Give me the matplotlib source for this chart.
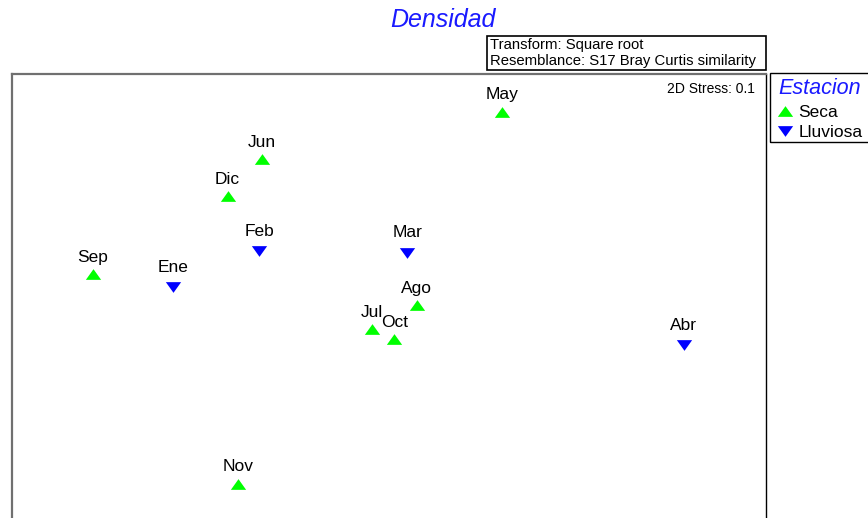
import matplotlib
matplotlib.use("Agg")
import matplotlib.pyplot as plt
from matplotlib.patches import Rectangle

plt.rcParams["font.family"] = ["Liberation Sans", "DejaVu Sans"]

# MDS coordinates (arbitrary units)
months = ["May", "Jun", "Dic", "Feb", "Mar", "Sep", "Ene", "Ago", "Jul", "Oct", "Abr", "Nov"]
mds_x = [65.0, 33.2, 28.6, 32.8, 52.4, 10.7, 21.4, 53.7, 47.7, 50.7, 89.1, 30.0]
mds_y = [55.0, 48.7, 43.8, 36.5, 36.3, 33.4, 31.7, 29.3, 26.1, 24.8, 24.0, 5.6]
estacion = ["Seca", "Seca", "Seca", "Lluviosa", "Lluviosa", "Seca", "Lluviosa",
            "Seca", "Seca", "Seca", "Lluviosa", "Seca"]

groups = ["Seca", "Lluviosa"]
# flattened triangles like the PRIMER symbols
markers = {"Seca": [(-1, -0.7), (1, -0.7), (0, 0.7)],
           "Lluviosa": [(-1, 0.7), (1, 0.7), (0, -0.7)]}
colors = {"Seca": "#00ff00", "Lluviosa": "#0000ff"}
label_offset = {"Seca": 12.5, "Lluviosa": 15.5}

W, H = 868, 518
fig = plt.figure(figsize=(W / 100, H / 100), dpi=100)

# axes frame in pixels: left 12, right 766, top 74, bottom below the image
ax = fig.add_axes([12 / W, (H - 526) / H, 754 / W, 452 / H])
ax.set_xlim(0, 100)
ax.set_ylim(0, 60)
ax.set_xticks([])
ax.set_yticks([])
for side in ["left", "top"]:
    ax.spines[side].set_color("#707070")
    ax.spines[side].set_linewidth(1.6)
ax.spines["right"].set_color("black")
ax.spines["right"].set_linewidth(1.0)
ax.spines["bottom"].set_visible(False)

for g in groups:
    xs = [x for x, e in zip(mds_x, estacion) if e == g]
    ys = [y for y, e in zip(mds_y, estacion) if e == g]
    ax.plot(xs, ys, linestyle="none", marker=markers[g], markersize=11,
            color=colors[g], markeredgewidth=0, label=g, clip_on=False)

for name, x, y, e in zip(months, mds_x, mds_y, estacion):
    ax.annotate(name, (x, y), xytext=(0, label_offset[e]), textcoords="offset pixels",
                ha="center", va="baseline", fontsize=12.5)

fig.text(755 / W, 1 - 93.3 / H, "2D Stress: 0.1", ha="right", va="baseline", fontsize=10)

fig.text(443 / W, 1 - 20 / H, "Densidad", ha="center", va="center",
         fontsize=18, style="italic", color="#1a1aff")

# info box
fig.patches.append(Rectangle((487 / W, 1 - 70 / H), 279 / W, 34 / H,
                             transform=fig.transFigure, fill=False,
                             edgecolor="black", linewidth=1.2))
fig.text(490 / W, 1 - 45 / H, "Transform: Square root", ha="left", va="center", fontsize=10.7)
fig.text(490 / W, 1 - 61 / H, "Resemblance: S17 Bray Curtis similarity",
         ha="left", va="center", fontsize=10.7)

# legend frame runs off the right edge
fig.patches.append(Rectangle((770 / W, 1 - 142 / H), 120 / W, 69 / H,
                             transform=fig.transFigure, fill=False,
                             edgecolor="black", linewidth=1.0))
leg = ax.legend(loc="upper left", bbox_to_anchor=(775 / W, 1 - 75 / H),
                bbox_transform=fig.transFigure, frameon=False, fontsize=12.5,
                title="Estacion", alignment="left", handlelength=0.75,
                handletextpad=0.4, borderpad=0.2, labelspacing=0.3,
                borderaxespad=0)
leg.get_title().set_fontsize(15.5)
leg.get_title().set_style("italic")
leg.get_title().set_color("#1a1aff")

fig.savefig("out.png", dpi=100)
